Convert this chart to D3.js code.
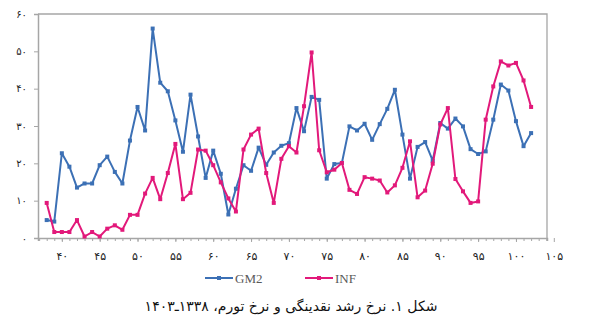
<!DOCTYPE html>
<html>
<head>
<meta charset="utf-8">
<script src="https://cdn.jsdelivr.net/npm/d3@7/dist/d3.min.js"></script>
<style>
  html, body { margin: 0; padding: 0; background: #fff; }
  svg { display: block; }
</style>
</head>
<body>
<svg id="chart" width="595" height="328"></svg>
<script>
// Years 1338–1402 (shown as two/three-digit years on the axis)
const years = d3.range(38, 103);

// Money growth rate (GM2), percent
const gm2 = [
  4.8, 4.4, 22.7, 19.1, 13.5, 14.6, 14.6, 19.5, 21.8, 17.7,
  14.6, 26.1, 35.1, 28.8, 56.1, 41.6, 39.3, 31.5, 23.1, 38.4,
  27.2, 16.1, 23.4, 17.2, 6.3, 13.2, 19.5, 18.0, 24.2, 19.6,
  22.9, 24.7, 25.4, 34.8, 28.6, 37.8, 37.0, 15.9, 19.8, 20.1,
  29.9, 28.8, 30.6, 26.3, 30.5, 34.6, 39.7, 27.7, 15.9, 24.4,
  25.7, 20.7, 30.8, 29.3, 32.0, 29.9, 23.8, 22.5, 23.2, 31.7,
  41.1, 39.5, 31.3, 24.6, 28.1
];

// Inflation rate (INF), percent
const inf = [
  9.4, 1.6, 1.6, 1.6, 4.8, 0.4, 1.6, 0.4, 2.5, 3.4,
  2.2, 6.2, 6.2, 11.9, 16.1, 10.4, 17.4, 25.2, 10.4, 12.1,
  23.7, 23.4, 19.5, 14.9, 10.6, 7.1, 23.7, 27.7, 29.3, 17.4,
  9.4, 21.2, 24.6, 22.9, 35.3, 49.7, 23.5, 17.6, 18.3, 20.1,
  12.9, 11.8, 16.3, 15.9, 15.4, 12.2, 14.1, 18.8, 25.9, 10.9,
  12.7, 19.9, 30.4, 34.8, 15.8, 12.5, 9.4, 9.8, 31.7, 40.6,
  47.3, 46.2, 46.9, 42.2, 35.1
];

const xTicks = d3.range(40, 106, 5);
const yTicks = [0, 10, 20, 30, 40, 50, 60];

const seriesNames = ["GM2", "INF"];
const seriesColors = ["#3c70b5", "#e2197a"];
const title = "شکل ۱. نرخ رشد نقدینگی و نرخ تورم، ۱۳۳۸ـ۱۴۰۳";

const faDigits = "۰۱۲۳۴۵۶۷۸۹";
const toFa = v => String(v).replace(/\d/g, d => faDigits[d]);

const svg = d3.select("#chart");
const plotLeft = 38, plotRight = 547, plotTop = 14, plotBottom = 238;

const x = d3.scaleLinear().domain([36.85, 104.1]).range([plotLeft, plotRight]);
const y = d3.scaleLinear().domain([0, 60]).range([plotBottom, plotTop]);

// plot frame
svg.append("path")
  .attr("d", `M${plotLeft},${plotTop}H${plotRight}V${plotBottom}`)
  .attr("fill", "none").attr("stroke", "#a6a6a6").attr("stroke-width", 1.3);

// y axis
const yAxis = svg.append("g")
  .attr("transform", `translate(${plotLeft},0)`)
  .call(d3.axisLeft(y).tickValues(yTicks).tickSize(4).tickPadding(7).tickFormat(toFa));
yAxis.select(".domain").attr("stroke", "#a6a6a6").attr("stroke-width", 1.5);
yAxis.selectAll(".tick line").attr("stroke", "#a6a6a6");
yAxis.selectAll("text").attr("font-family", "DejaVu Sans").attr("font-size", 10).attr("fill", "#222");

// x axis: minor ticks every year, labels every five
const xMinor = svg.append("g")
  .attr("transform", `translate(0,${plotBottom})`)
  .call(d3.axisBottom(x).tickValues(d3.range(37, 105)).tickSize(3).tickFormat(""));
xMinor.select(".domain").attr("stroke", "#a6a6a6").attr("stroke-width", 1.5);
xMinor.selectAll(".tick line").attr("stroke", "#a6a6a6");

const xAxis = svg.append("g")
  .attr("transform", `translate(0,${plotBottom})`)
  .call(d3.axisBottom(x).tickValues(xTicks).tickSize(4).tickPadding(10).tickFormat(toFa));
xAxis.select(".domain").remove();
xAxis.selectAll(".tick line").attr("stroke", "#a6a6a6");
xAxis.selectAll("text").attr("font-family", "DejaVu Sans").attr("font-size", 11).attr("fill", "#222");

// series
const line = d3.line().x((d, i) => x(years[i])).y(d => y(d));
[gm2, inf].forEach((vals, k) => {
  const g = svg.append("g");
  g.append("path").datum(vals)
    .attr("d", line).attr("fill", "none")
    .attr("stroke", seriesColors[k]).attr("stroke-width", 2)
    .attr("stroke-linejoin", "round");
  g.selectAll("rect").data(vals).join("rect")
    .attr("x", (d, i) => x(years[i]) - 2)
    .attr("y", d => y(d) - 2)
    .attr("width", 4).attr("height", 4)
    .attr("fill", seriesColors[k]);
});

// legend
const legendX = [205, 305];
seriesNames.forEach((name, k) => {
  const g = svg.append("g").attr("transform", `translate(${legendX[k]},278)`);
  g.append("line").attr("x1", 0).attr("x2", 28).attr("y1", 0).attr("y2", 0)
    .attr("stroke", seriesColors[k]).attr("stroke-width", 2);
  g.append("rect").attr("x", 12).attr("y", -2).attr("width", 4).attr("height", 4)
    .attr("fill", seriesColors[k]);
  g.append("text").attr("x", 30).attr("y", 4.5)
    .attr("font-family", "Liberation Serif").attr("font-size", 13)
    .attr("fill", "#595959").text(name);
});

// caption
svg.append("text")
  .attr("x", 291).attr("y", 311)
  .attr("text-anchor", "middle")
  .attr("direction", "rtl")
  .attr("font-family", "DejaVu Sans").attr("font-size", 14)
  .attr("fill", "#111")
  .text(title);
</script>
</body>
</html>
